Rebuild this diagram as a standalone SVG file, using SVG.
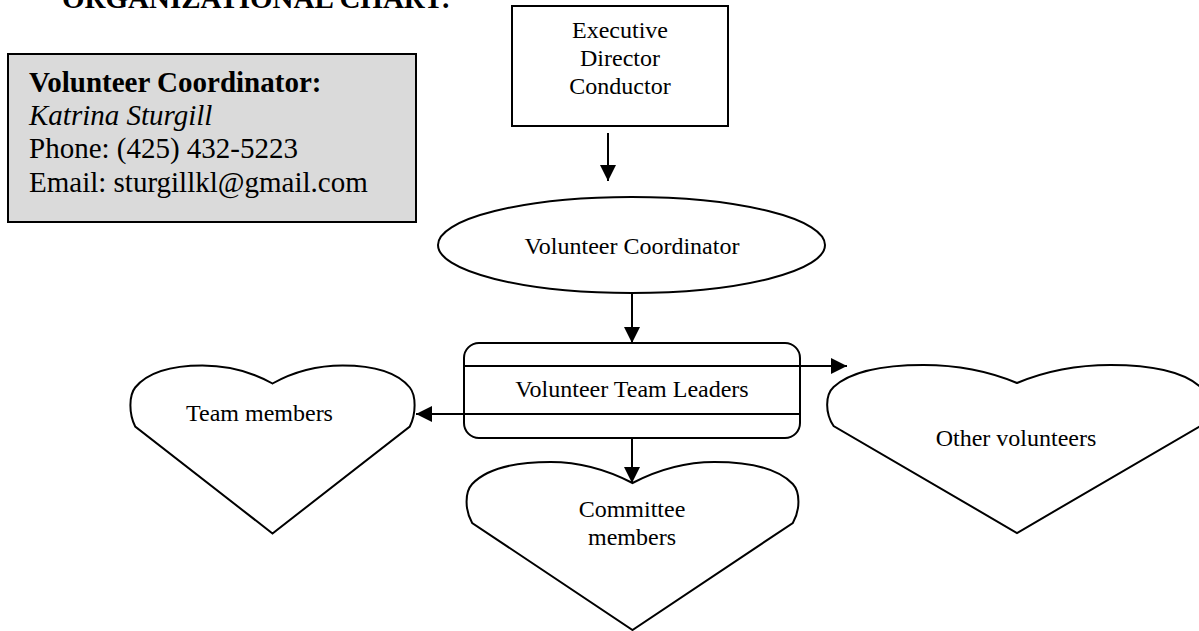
<svg xmlns="http://www.w3.org/2000/svg" width="1199" height="631" viewBox="0 0 1199 631">
<style>
text{font-family:"Liberation Serif","Times New Roman",serif;fill:#000}
.t{font-size:24px;text-anchor:middle}
.b{font-size:29px}
.shape{fill:#fff;stroke:#000;stroke-width:2}
.conn{stroke:#000;stroke-width:2;fill:none}
</style>
<defs>
<marker id="ah" markerUnits="userSpaceOnUse" markerWidth="17" markerHeight="16" viewBox="0 0 17 16" refX="16" refY="8" orient="auto">
<path d="M0,0 L16,8 L0,16 Z" fill="#000"/>
</marker>
</defs>
<rect width="1199" height="631" fill="#fff"/>
<text x="62" y="7.5" style="font-size:29px;font-weight:bold">ORGANIZATIONAL CHART:</text>
<g id="contact">
<rect x="8" y="54" width="408" height="168" fill="#dadada" stroke="#000" stroke-width="2"/>
<text class="b" x="29" y="92" font-weight="bold">Volunteer Coordinator:</text>
<text class="b" x="29" y="125" font-style="italic">Katrina Sturgill</text>
<text class="b" x="29" y="158">Phone: (425) 432-5223</text>
<text class="b" x="29" y="192">Email: sturgillkl@gmail.com</text>
</g>
<g id="executive">
<rect class="shape" x="512" y="6" width="216" height="120"/>
<text class="t" x="620" y="38">Executive</text>
<text class="t" x="620" y="66">Director</text>
<text class="t" x="620" y="94">Conductor</text>
</g>
<g id="coordinator">
<ellipse class="shape" cx="631.5" cy="245" rx="193.5" ry="48"/>
<text class="t" x="632" y="254">Volunteer Coordinator</text>
</g>
<g id="leaders">
<rect class="shape" x="464" y="343" width="336" height="95" rx="15" ry="15"/>
<line x1="464" y1="366" x2="800" y2="366" stroke="#000" stroke-width="2"/>
<line x1="464" y1="414" x2="800" y2="414" stroke="#000" stroke-width="2"/>
<text class="t" x="632" y="397">Volunteer Team Leaders</text>
</g>
<g id="team">
<path class="shape" d="M272.5,383.5 C251.05,371.5 229.6,365.5 202.4,365.5 C169.5,365.5 146.7,373.5 135.2,387.5 C128.8,395.5 128.8,413.5 135.2,426.5 L272.5,533.5 L409.8,426.5 C416.2,413.5 416.2,395.5 409.8,387.5 C398.3,373.5 375.5,365.5 342.6,365.5 C315.4,365.5 293.95,371.5 272.5,383.5 Z"/>
<text class="t" x="259.5" y="421">Team members</text>
</g>
<g id="committee">
<path class="shape" d="M632.5,483 C607.45,470 582.4,462 550.67,462 C512.26,462 485.54,470 472.18,484 C464.7,492 464.7,510 472.18,523 L632.5,630 L792.82,523 C800.3,510 800.3,492 792.82,484 C779.46,470 752.74,462 714.33,462 C682.6,462 657.55,470 632.5,483 Z"/>
<text class="t" x="632" y="517">Committee</text>
<text class="t" x="632" y="545">members</text>
</g>
<g id="others">
<path class="shape" d="M1017,383 C988.35,371 959.7,365 923.4,365 C879.5,365 848.9,373 833.6,387 C825,395 825,413 833.6,426 L1017,533 L1200.4,426 C1209,413 1209,395 1200.4,387 C1185.1,373 1154.5,365 1110.6,365 C1074.3,365 1045.65,371 1017,383 Z"/>
<text class="t" x="1016" y="446">Other volunteers</text>
</g>
<g id="connectors">
<line class="conn" x1="608" y1="133" x2="608" y2="181" marker-end="url(#ah)"/>
<line class="conn" x1="632" y1="293" x2="632" y2="343" marker-end="url(#ah)"/>
<line class="conn" x1="464" y1="414" x2="416" y2="414" marker-end="url(#ah)"/>
<line class="conn" x1="800" y1="366" x2="847" y2="366" marker-end="url(#ah)"/>
<line class="conn" x1="632" y1="438" x2="632" y2="483" marker-end="url(#ah)"/>
</g>
</svg>
